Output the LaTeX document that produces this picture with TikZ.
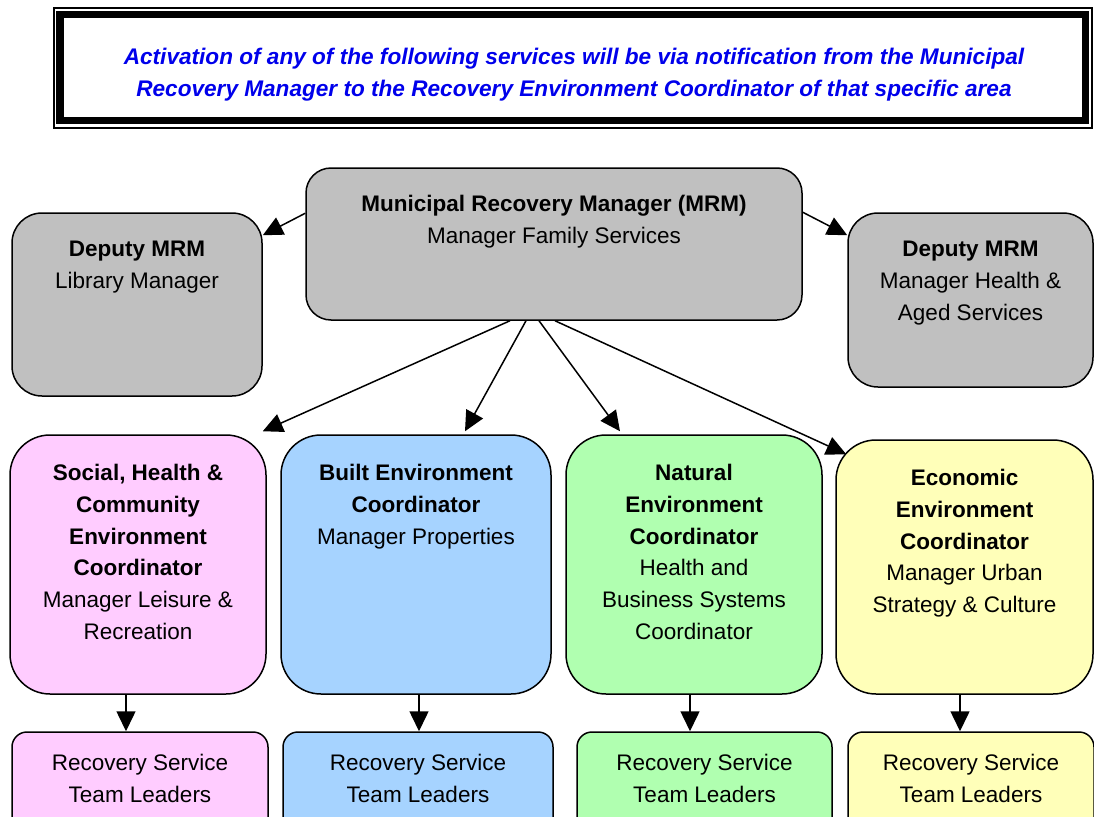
\documentclass[tikz,border=0pt]{standalone}
\usepackage{fontspec}
\setmainfont{Liberation Sans}
\usetikzlibrary{positioning,arrows.meta}

\definecolor{boxgray}{RGB}{192,192,192}
\definecolor{socpink}{RGB}{255,204,255}
\definecolor{builtblue}{RGB}{166,211,255}
\definecolor{natgreen}{RGB}{176,255,176}
\definecolor{ecoyellow}{RGB}{255,255,185}
\definecolor{notice}{RGB}{0,0,235}

\tikzset{
  box/.style={draw, line width=1.5pt, rounded corners=#1, inner sep=0pt},
  box/.default=30pt,
  txt/.style={align=center, inner sep=0pt, font=\fontsize{22.5}{31.7}\selectfont},
  arr/.style={-{Triangle[length=20pt,width=19pt]}, line width=1.5pt}
}

\begin{document}
\begin{tikzpicture}[x=1pt, y=-1pt]
    \useasboundingbox (0,0) rectangle (1094,816);
    \clip (0,0) rectangle (1094,816);

    % Notice banner
    \draw[line width=1.2pt] (54,8) rectangle (1092,128);
    \draw[line width=7.5pt] (60,14.5) rectangle (1085.5,120.5);
    \node[txt, font=\fontsize{22.6}{32}\selectfont\bfseries\itshape, text=notice] (notice) at (574,75)
        {Activation of any of the following services will be via notification from the Municipal\\
         Recovery Manager to the Recovery Environment Coordinator of that specific area};

    % Recovery manager and deputies
    \node[box=25pt, fill=boxgray, minimum width=496pt, minimum height=152pt] (mrm) at (554,244) {};
    \node[txt, below=28pt of mrm.north] (mrm-t) {\textbf{Municipal Recovery Manager (MRM)}\\Manager Family Services};

    \node[box, fill=boxgray, minimum width=250pt, minimum height=183pt] (depl) at (137,304.5) {};
    \node[txt, below=29pt of depl.north] (depl-t) {\textbf{Deputy MRM}\\Library Manager};

    \node[box, fill=boxgray, minimum width=245pt, minimum height=174pt] (depr) at (970.5,300) {};
    \node[txt, below=29pt of depr.north] (depr-t) {\textbf{Deputy MRM}\\Manager Health \&\\Aged Services};

    % Environment coordinators
    \node[box=40pt, fill=socpink, minimum width=256pt, minimum height=259pt] (soc) at (138,564.5) {};
    \node[txt, below=30pt of soc.north] (soc-t) {\textbf{Social, Health \&}\\\textbf{Community}\\\textbf{Environment}\\\textbf{Coordinator}\\Manager Leisure \&\\Recreation};

    \node[box=40pt, fill=builtblue, minimum width=270pt, minimum height=259pt] (blt) at (416,564.5) {};
    \node[txt, below=30pt of blt.north] (blt-t) {\textbf{Built Environment}\\\textbf{Coordinator}\\Manager Properties};

    \node[box=40pt, fill=natgreen, minimum width=256pt, minimum height=259pt] (nat) at (694,564.5) {};
    \node[txt, below=30pt of nat.north] (nat-t) {\textbf{Natural}\\\textbf{Environment}\\\textbf{Coordinator}\\Health and\\Business Systems\\Coordinator};

    \node[box=40pt, fill=ecoyellow, minimum width=257pt, minimum height=254pt] (eco) at (964.5,567) {};
    \node[txt, below=30pt of eco.north] (eco-t) {\textbf{Economic}\\\textbf{Environment}\\\textbf{Coordinator}\\Manager Urban\\Strategy \& Culture};

    % Team leaders
    \node[box=15pt, fill=socpink, minimum width=256pt, minimum height=100pt] (socl) at (140,782) {};
    \node[box=15pt, fill=builtblue, minimum width=270pt, minimum height=100pt] (bltl) at (418,782) {};
    \node[box=15pt, fill=natgreen, minimum width=255pt, minimum height=100pt] (natl) at (704.5,782) {};
    \node[box=15pt, fill=ecoyellow, minimum width=246pt, minimum height=100pt] (ecol) at (971,782) {};
    \foreach \t in {socl,bltl,natl,ecol}
        \node[txt, below=23pt of \t.north] (\t-t) {Recovery Service\\Team Leaders};

    % Arrows
    \draw[arr] ([yshift=-46pt]mrm.north west) -- ([yshift=-23pt]depl.north east);
    \draw[arr] ([yshift=-45pt]mrm.north east) -- ([yshift=-23pt]depr.north west);
    \draw[arr] ([xshift=-44pt]mrm.south) -- ([xshift=-4pt,yshift=3pt]soc.north east);
    \draw[arr] ([xshift=-28pt]mrm.south) -- ([xshift=49pt,yshift=3pt]blt.north);
    \draw[arr] ([xshift=-15pt]mrm.south) -- ([xshift=-74pt,yshift=3pt]nat.north);
    \draw[arr] ([xshift=1pt]mrm.south) -- ([xshift=11pt,yshift=-15pt]eco.north west);

    \draw[arr] ([xshift=-12pt]soc.south) -- ([xshift=-14pt]socl.north);
    \draw[arr] ([xshift=3pt]blt.south) -- ([xshift=1pt]bltl.north);
    \draw[arr] ([xshift=-4pt]nat.south) -- ([xshift=-14.5pt]natl.north);
    \draw[arr] ([xshift=-4.5pt]eco.south) -- ([xshift=-11pt]ecol.north);
\end{tikzpicture}
\end{document}
